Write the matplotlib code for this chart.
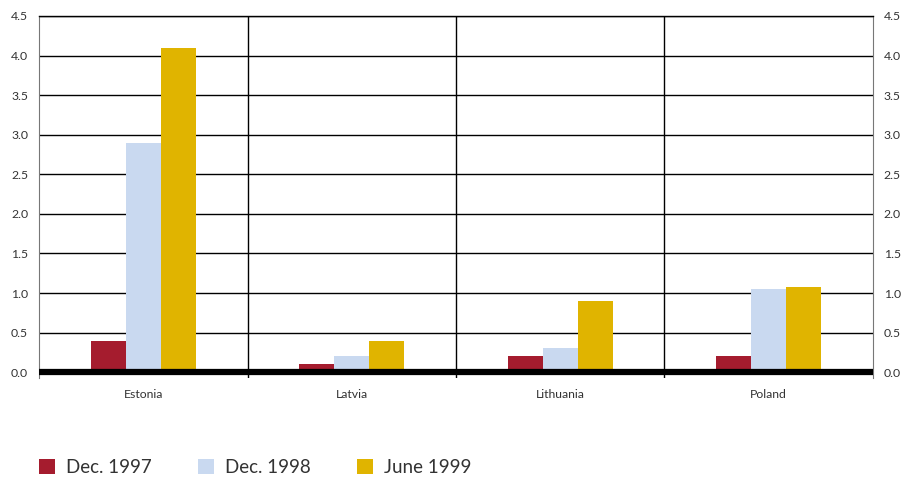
import numpy as np
import matplotlib.pyplot as plt
from matplotlib.patches import Patch

plt.rcParams['font.family'] = ['Lato', 'DejaVu Sans']

countries = ['Estonia', 'Latvia', 'Lithuania', 'Poland']
series = ['Dec. 1997', 'Dec. 1998', 'June 1999']
dec_1997 = [0.4, 0.1, 0.2, 0.2]
dec_1998 = [2.9, 0.2, 0.3, 1.05]
june_1999 = [4.1, 0.4, 0.9, 1.08]
colors = ['#A51C2E', '#C9D9F0', '#E0B400']

fig = plt.figure(figsize=(9.12, 4.83), dpi=100)
ax = fig.add_axes([0.043, 0.217, 0.914, 0.75])

x = np.arange(len(countries))
w = 0.168
for i, (vals, c) in enumerate(zip([dec_1997, dec_1998, june_1999], colors)):
    ax.bar(x + (i - 1) * w, vals, width=w, color=c, zorder=3)

ax.set_xlim(-0.5, 3.5)
ax.set_ylim(-0.075, 4.5)
yt = np.arange(0, 4.51, 0.5)
ax.set_yticks(yt)
ax.set_yticklabels([f'{v:.1f}' for v in yt])
for v in yt[1:]:
    ax.axhline(v, color='black', lw=1, zorder=1)
ax.axhline(0, color='black', lw=4.5, zorder=4)
for xv in [0.5, 1.5, 2.5]:
    ax.axvline(xv, color='black', lw=1, zorder=1)

ax.set_xticks(x)
ax.set_xticklabels(countries)
ax.tick_params(axis='x', length=0, pad=8, labelsize=8.8, labelcolor='#333333')
ax.tick_params(axis='y', length=0, pad=8, labelsize=8.8, labelcolor='#333333')
ax.spines['bottom'].set_visible(False)
ax.spines['top'].set_color('black')
ax.spines['left'].set_color('#777777')
ax.spines['right'].set_color('#777777')
ax.spines['top'].set_linewidth(1)

ax2 = ax.twinx()
ax2.set_ylim(ax.get_ylim())
ax2.set_yticks(yt)
ax2.set_yticklabels([f'{v:.1f}' for v in yt])
ax2.tick_params(axis='y', length=0, pad=8, labelsize=8.8, labelcolor='#333333')
for s in ax2.spines.values():
    s.set_visible(False)

handles = [Patch(facecolor=c, edgecolor='none') for c in colors]
fig.legend(handles, series, loc='center left', bbox_to_anchor=(0.0428, 0.033),
           ncol=3, frameon=False, fontsize=13.5, handlelength=0.85, handleheight=0.85,
           handletextpad=0.6, columnspacing=2.45, borderpad=0, borderaxespad=0,
           labelcolor='#333333')

fig.savefig('out.png', dpi=100)
